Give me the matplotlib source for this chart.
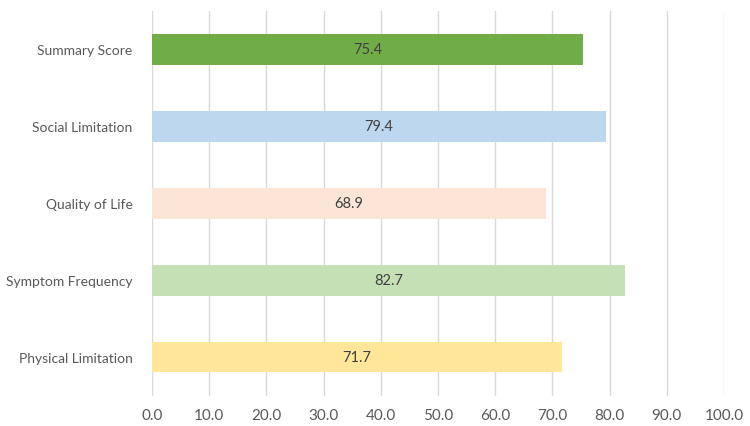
import matplotlib.pyplot as plt

categories = ["Physical Limitation", "Symptom Frequency", "Quality of Life",
              "Social Limitation", "Summary Score"]
scores = [71.7, 82.7, 68.9, 79.4, 75.4]
colors = ["#FFE699", "#C5E0B4", "#FBE5D6", "#BDD7EE", "#70AD47"]
ticks = [0, 10, 20, 30, 40, 50, 60, 70, 80, 90, 100]

plt.rcParams['font.family'] = ['Lato', 'DejaVu Sans']

fig = plt.figure(figsize=(7.5, 4.27), dpi=100)
ax = fig.add_axes([0.2027, 0.0703, 0.7626, 0.9016])

ypos = range(len(categories))
ax.barh(ypos, scores, height=0.39, color=colors, zorder=2)

# value labels in the middle of each bar
for y, v in zip(ypos, scores):
    ax.text(v / 2, y, f"{v:.1f}", ha="center", va="center",
            fontsize=10.5, color="#404040", zorder=3)

ax.set_xlim(0, 100)
ax.set_ylim(-0.5, 4.5)
ax.set_xticks(ticks)
ax.set_xticklabels([f"{t:.1f}" for t in ticks])
ax.set_yticks(list(ypos))
ax.set_yticklabels(categories)
ax.tick_params(axis="both", length=0, colors="#595959")
ax.tick_params(axis="x", pad=9, labelsize=11)
ax.tick_params(axis="y", pad=14, labelsize=10)

ax.grid(axis="x", color="#D9D9D9", linewidth=1, zorder=0)
for s in ax.spines.values():
    s.set_visible(False)

fig.savefig("out.png", dpi=100)
